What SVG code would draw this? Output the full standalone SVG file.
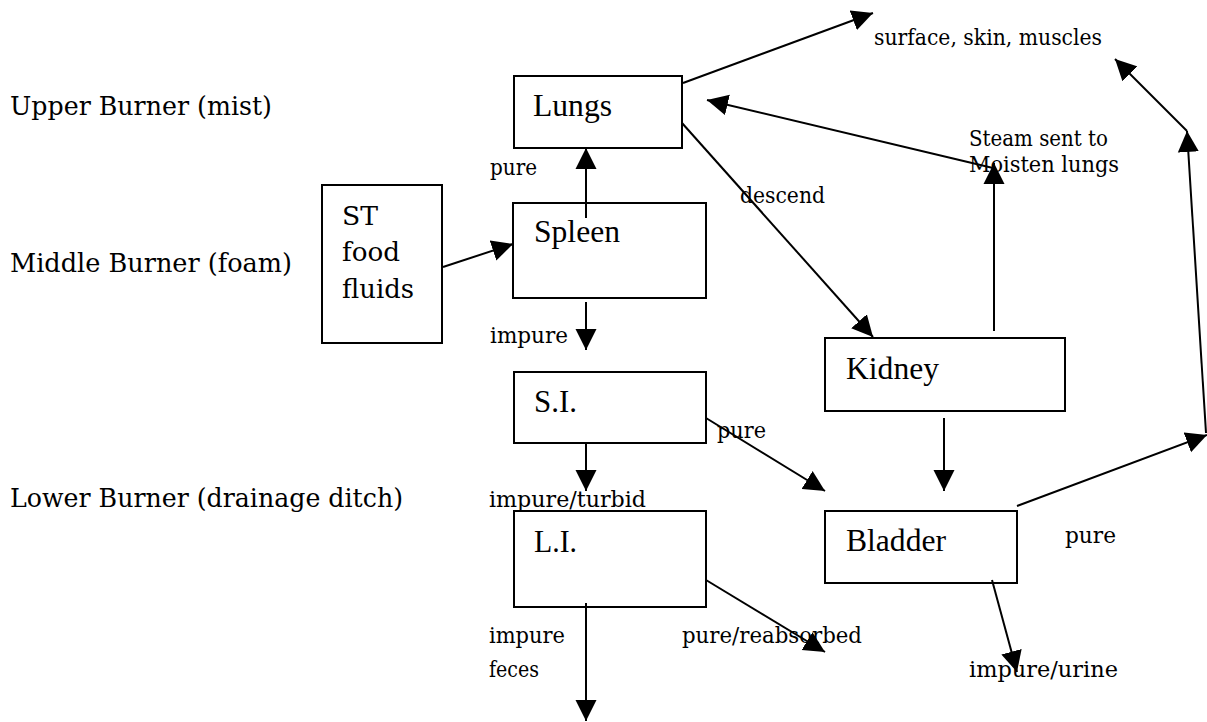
<svg xmlns="http://www.w3.org/2000/svg" width="1207" height="722" viewBox="0 0 1207 722">
<style>
.box{fill:#fff;stroke:#000;stroke-width:2}
.lbl{font-family:"Liberation Serif","Times New Roman",serif;font-size:31.5px;fill:#000}
.t{font-family:"DejaVu Serif","Liberation Serif",serif;font-size:21.5px;fill:#000}
.big{font-family:"DejaVu Serif","Liberation Serif",serif;font-size:25.5px;fill:#000}
.c line{stroke:#000;stroke-width:2;marker-end:url(#ah)}
</style>
<defs>
<marker id="ah" markerUnits="userSpaceOnUse" markerWidth="22" markerHeight="22" refX="21" refY="11" orient="auto">
<path d="M0,0.5 L21,11 L0,21.5 z" fill="#000"/>
</marker>
</defs>
<rect width="1207" height="722" fill="#fff"/>
<g id="burners">
<text class="big" x="10" y="115" textLength="262" lengthAdjust="spacingAndGlyphs">Upper Burner (mist)</text>
<text class="big" x="10" y="272" textLength="282" lengthAdjust="spacingAndGlyphs">Middle Burner (foam)</text>
<text class="big" x="10" y="507" textLength="393" lengthAdjust="spacingAndGlyphs">Lower Burner (drainage ditch)</text>
</g>
<g id="st">
<rect class="box" x="322" y="185" width="120" height="158"/>
<text class="big" x="342" y="225" style="font-size:26px" textLength="36" lengthAdjust="spacingAndGlyphs">ST</text>
<text class="big" x="342" y="261" style="font-size:26px" textLength="58" lengthAdjust="spacingAndGlyphs">food</text>
<text class="big" x="342" y="298" style="font-size:26px" textLength="72" lengthAdjust="spacingAndGlyphs">fluids</text>
</g>
<g id="lungs">
<rect class="box" x="514" y="76" width="168" height="72"/>
<text class="lbl" x="533" y="116" textLength="79" lengthAdjust="spacingAndGlyphs">Lungs</text>
</g>
<g id="spleen">
<rect class="box" x="513" y="203" width="193" height="95"/>
<text class="lbl" x="534" y="242" textLength="86" lengthAdjust="spacingAndGlyphs">Spleen</text>
</g>
<g id="si">
<rect class="box" x="514" y="372" width="192" height="71"/>
<text class="lbl" x="534" y="412" textLength="43" lengthAdjust="spacingAndGlyphs">S.I.</text>
</g>
<g id="li">
<rect class="box" x="514" y="511" width="192" height="96"/>
<text class="lbl" x="534" y="552" textLength="43" lengthAdjust="spacingAndGlyphs">L.I.</text>
</g>
<g id="kidney">
<rect class="box" x="825" y="338" width="240" height="73"/>
<text class="lbl" x="846" y="379" textLength="93" lengthAdjust="spacingAndGlyphs">Kidney</text>
</g>
<g id="bladder">
<rect class="box" x="825" y="511" width="192" height="72"/>
<text class="lbl" x="846" y="551" textLength="100" lengthAdjust="spacingAndGlyphs">Bladder</text>
</g>
<g id="connectors" class="c">
<line x1="443" y1="267" x2="513" y2="244"/>
<line x1="586" y1="218" x2="586" y2="148"/>
<line x1="586" y1="302" x2="586" y2="350"/>
<line x1="586" y1="443" x2="586" y2="491"/>
<line x1="586" y1="603" x2="586" y2="721"/>
<line x1="706" y1="418" x2="825" y2="491"/>
<line x1="706" y1="580" x2="825" y2="652"/>
<line x1="683" y1="83" x2="873" y2="13"/>
<line x1="682" y1="123" x2="873" y2="337"/>
<line x1="994" y1="331" x2="994" y2="163"/>
<line x1="993" y1="168" x2="707" y2="100"/>
<line x1="944" y1="418" x2="944" y2="491"/>
<line x1="1017" y1="506" x2="1207" y2="435"/>
<line x1="992" y1="580" x2="1017" y2="672"/>
<line x1="1206" y1="433" x2="1187" y2="131"/>
<line x1="1187" y1="131" x2="1115" y2="59"/>
</g>
<g id="labels">
<text class="t" x="490" y="175" textLength="47" lengthAdjust="spacingAndGlyphs">pure</text>
<text class="t" x="490" y="343" textLength="78" lengthAdjust="spacingAndGlyphs">impure</text>
<text class="t" x="489" y="507" textLength="157" lengthAdjust="spacingAndGlyphs">impure/turbid</text>
<text class="t" x="717" y="438" textLength="49" lengthAdjust="spacingAndGlyphs">pure</text>
<text class="t" x="489" y="643" textLength="76" lengthAdjust="spacingAndGlyphs">impure</text>
<text class="t" x="489" y="677" textLength="50" lengthAdjust="spacingAndGlyphs">feces</text>
<text class="t" x="682" y="643" textLength="180" lengthAdjust="spacingAndGlyphs">pure/reabsorbed</text>
<text class="t" x="969" y="677" textLength="149" lengthAdjust="spacingAndGlyphs">impure/urine</text>
<text class="t" x="1065" y="543" textLength="51" lengthAdjust="spacingAndGlyphs">pure</text>
<text class="t" x="740" y="203" textLength="85" lengthAdjust="spacingAndGlyphs">descend</text>
<text class="t" x="969" y="146" textLength="139" lengthAdjust="spacingAndGlyphs">Steam sent to</text>
<text class="t" x="969" y="172" textLength="150" lengthAdjust="spacingAndGlyphs">Moisten lungs</text>
<text class="t" x="874" y="45" textLength="228" lengthAdjust="spacingAndGlyphs">surface, skin, muscles</text>
</g>
</svg>
